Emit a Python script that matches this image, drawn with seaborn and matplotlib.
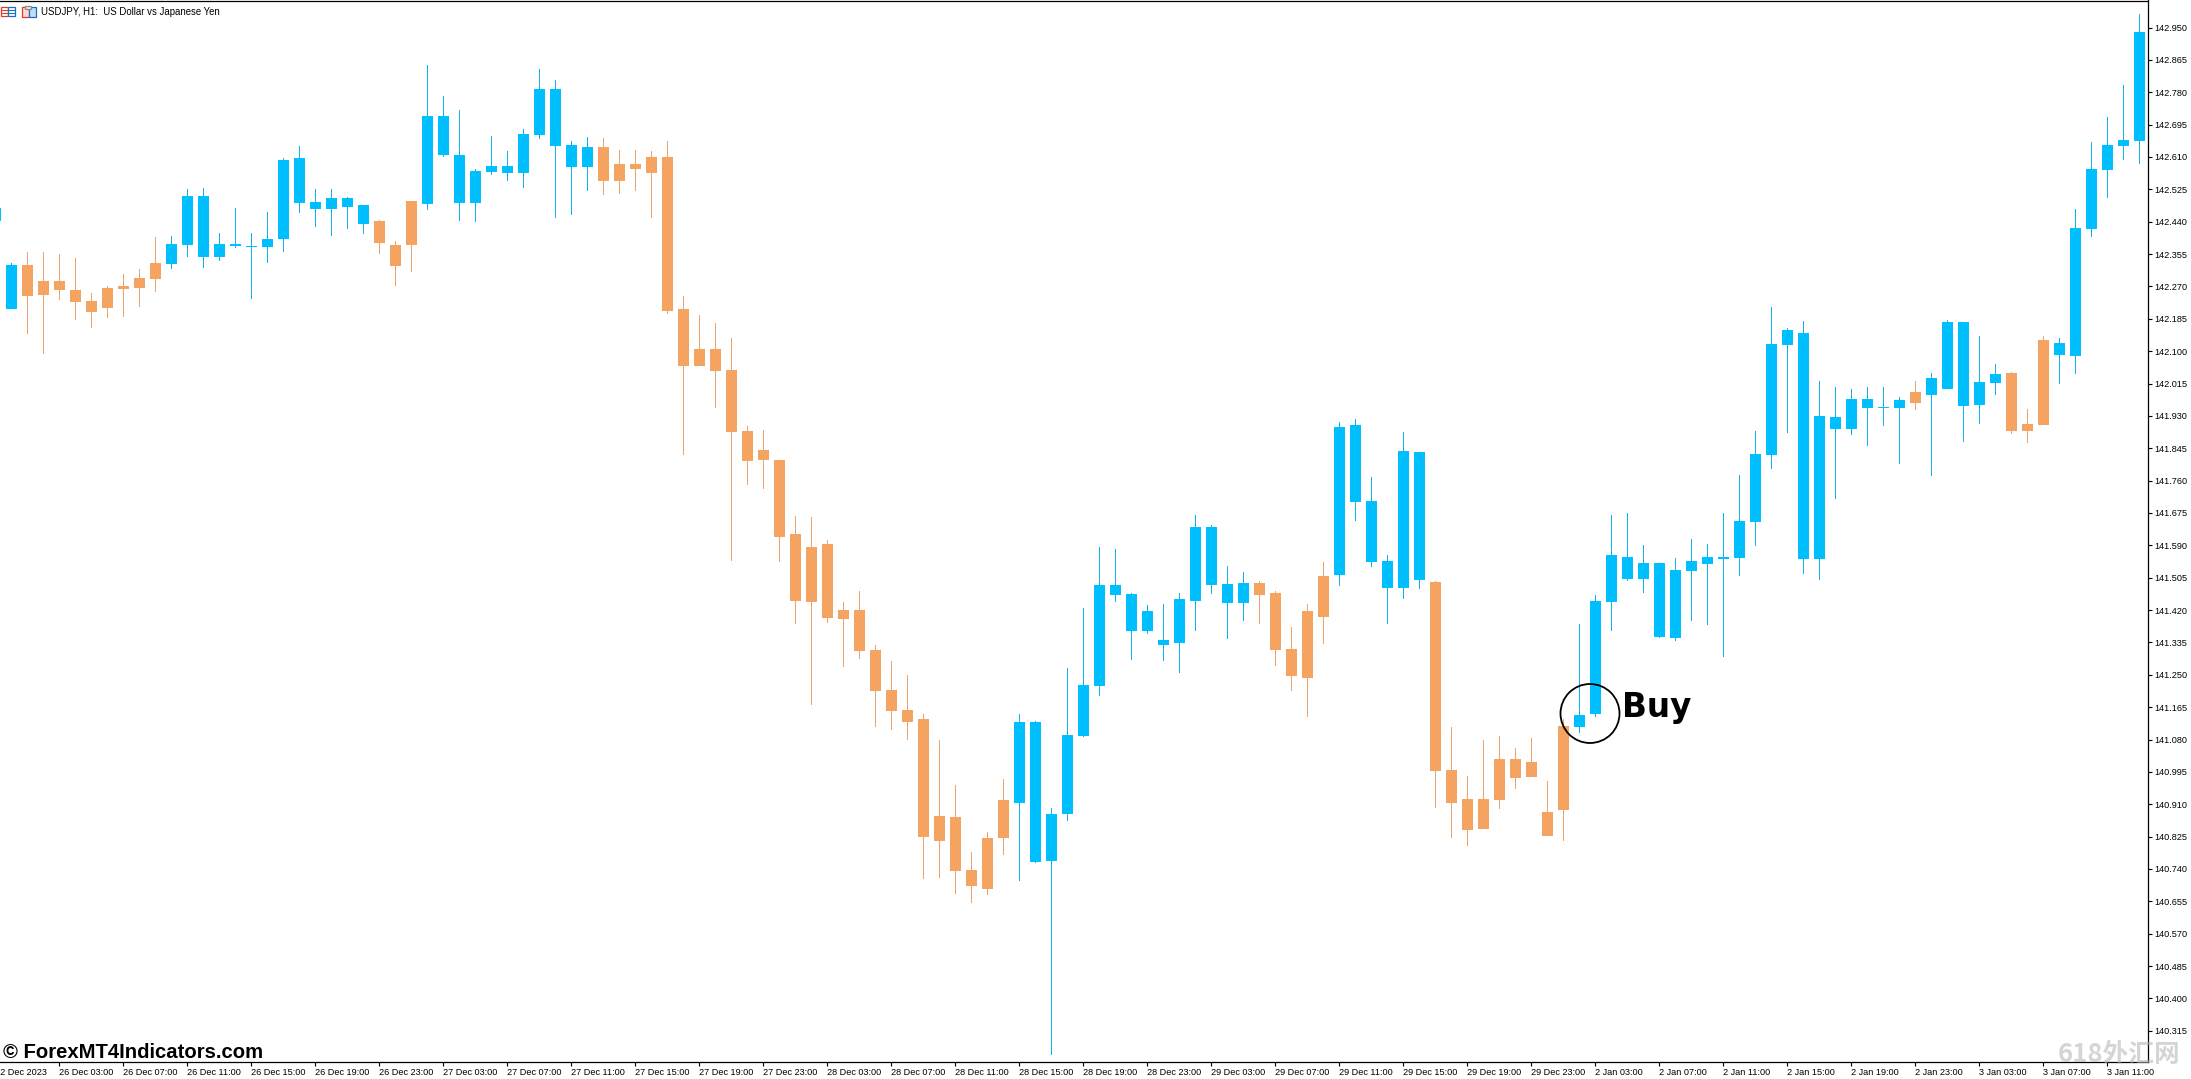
import numpy as np
import pandas as pd
import matplotlib
matplotlib.use('Agg')
import matplotlib.pyplot as plt
from matplotlib.patches import Circle, Rectangle
import seaborn as sns

# ==========================================
# Chart data (USDJPY H1)
# ==========================================
highs = [
    142.497, 142.331, 142.360, 142.360, 142.355, 142.345, 142.253, 142.271, 142.302, 142.316,
    142.400, 142.402, 142.526, 142.528, 142.410, 142.476, 142.410, 142.465, 142.607, 142.639,
    142.526, 142.526, 142.505, 142.484, 142.444, 142.389, 142.494, 142.851, 142.770, 142.733,
    142.578, 142.665, 142.626, 142.683, 142.841, 142.812, 142.652, 142.662, 142.660, 142.628,
    142.628, 142.626, 142.652, 142.245, 142.195, 142.174, 142.134, 141.903, 141.893, 141.814,
    141.667, 141.664, 141.604, 141.441, 141.470, 141.328, 141.286, 141.249, 141.147, 141.078,
    140.960, 140.784, 140.837, 140.976, 141.147, 141.128, 140.900, 141.267, 141.425, 141.585,
    141.580, 141.464, 141.433, 141.436, 141.464, 141.669, 141.643, 141.535, 141.520, 141.496,
    141.470, 141.375, 141.436, 141.546, 141.914, 141.922, 141.769, 141.564, 141.887, 141.835,
    141.496, 141.112, 140.984, 141.078, 141.089, 141.057, 141.084, 140.971, 141.134, 141.383,
    141.459, 141.669, 141.675, 141.591, 141.543, 141.556, 141.606, 141.593, 141.675, 141.775,
    141.890, 142.216, 142.161, 142.179, 142.021, 142.006, 142.000, 142.006, 142.006, 141.979,
    142.021, 142.042, 142.182, 142.176, 142.140, 142.066, 142.045, 141.948, 142.140, 142.134,
    142.473, 142.649, 142.715, 142.799, 142.985,
]
lows = [
    142.427, 142.211, 142.145, 142.092, 142.234, 142.182, 142.161, 142.187, 142.190, 142.216,
    142.255, 142.316, 142.347, 142.318, 142.337, 142.371, 142.237, 142.331, 142.360, 142.463,
    142.426, 142.402, 142.421, 142.408, 142.355, 142.271, 142.308, 142.471, 142.610, 142.442,
    142.439, 142.563, 142.547, 142.528, 142.657, 142.450, 142.457, 142.520, 142.510, 142.513,
    142.520, 142.450, 142.197, 141.827, 142.061, 141.950, 141.549, 141.748, 141.738, 141.546,
    141.383, 141.170, 141.386, 141.270, 141.291, 141.112, 141.105, 141.078, 140.713, 140.716,
    140.674, 140.650, 140.671, 140.776, 140.708, 140.755, 140.251, 140.866, 141.086, 141.194,
    141.441, 141.288, 141.357, 141.286, 141.254, 141.365, 141.462, 141.344, 141.391, 141.383,
    141.273, 141.207, 141.139, 141.331, 141.483, 141.654, 141.533, 141.383, 141.449, 141.475,
    140.900, 140.821, 140.800, 140.845, 140.897, 140.950, 140.981, 140.826, 140.813, 141.097,
    141.139, 141.365, 141.496, 141.464, 141.346, 141.338, 141.391, 141.380, 141.297, 141.509,
    141.588, 141.790, 141.885, 141.514, 141.499, 141.711, 141.879, 141.851, 141.903, 141.803,
    141.945, 141.772, 142.000, 141.861, 141.908, 141.985, 141.882, 141.859, 141.906, 142.014,
    142.040, 142.400, 142.502, 142.603, 142.591,
]
opens = [
    142.443, 142.211, 142.326, 142.284, 142.284, 142.260, 142.232, 142.266, 142.271, 142.292,
    142.331, 142.329, 142.379, 142.347, 142.347, 142.376, 142.373, 142.373, 142.394, 142.489,
    142.473, 142.473, 142.478, 142.434, 142.442, 142.379, 142.494, 142.486, 142.615, 142.489,
    142.489, 142.570, 142.568, 142.568, 142.668, 142.639, 142.584, 142.584, 142.636, 142.591,
    142.591, 142.610, 142.610, 142.211, 142.105, 142.105, 142.050, 141.890, 141.840, 141.814,
    141.620, 141.585, 141.593, 141.420, 141.420, 141.315, 141.210, 141.157, 141.134, 140.879,
    140.876, 140.737, 140.821, 140.921, 140.913, 140.758, 140.760, 140.884, 141.089, 141.220,
    141.459, 141.365, 141.365, 141.328, 141.333, 141.443, 141.485, 141.438, 141.438, 141.491,
    141.464, 141.317, 141.417, 141.509, 141.512, 141.704, 141.546, 141.478, 141.478, 141.499,
    141.493, 141.000, 140.923, 140.923, 141.028, 141.028, 141.021, 140.889, 141.115, 141.112,
    141.147, 141.441, 141.501, 141.501, 141.349, 141.346, 141.522, 141.541, 141.554, 141.556,
    141.651, 141.827, 142.116, 141.554, 141.554, 141.895, 141.895, 141.952, 141.950, 141.952,
    141.992, 141.985, 142.000, 141.956, 141.958, 142.016, 142.042, 141.908, 142.129, 142.090,
    142.087, 142.421, 142.576, 142.639, 142.652,
]
closes = [
    142.475, 142.326, 142.245, 142.247, 142.260, 142.229, 142.203, 142.213, 142.263, 142.266,
    142.289, 142.381, 142.507, 142.507, 142.381, 142.381, 142.376, 142.394, 142.602, 142.607,
    142.492, 142.502, 142.502, 142.484, 142.384, 142.323, 142.379, 142.717, 142.717, 142.615,
    142.573, 142.586, 142.586, 142.670, 142.788, 142.788, 142.641, 142.636, 142.547, 142.547,
    142.578, 142.568, 142.205, 142.061, 142.061, 142.048, 141.887, 141.811, 141.814, 141.612,
    141.443, 141.441, 141.399, 141.396, 141.312, 141.207, 141.155, 141.126, 140.824, 140.813,
    140.734, 140.695, 140.687, 140.821, 141.126, 141.126, 140.884, 141.091, 141.223, 141.485,
    141.485, 141.462, 141.417, 141.341, 141.449, 141.638, 141.638, 141.488, 141.491, 141.459,
    141.315, 141.246, 141.241, 141.401, 141.901, 141.906, 141.706, 141.549, 141.838, 141.835,
    140.997, 140.913, 140.842, 140.845, 140.921, 140.979, 140.981, 140.826, 140.895, 141.144,
    141.443, 141.564, 141.559, 141.543, 141.543, 141.525, 141.549, 141.559, 141.559, 141.654,
    141.830, 142.119, 142.155, 142.148, 141.929, 141.927, 141.974, 141.974, 141.953, 141.971,
    141.964, 142.029, 142.176, 142.176, 142.019, 142.040, 141.890, 141.890, 141.906, 142.121,
    142.423, 142.578, 142.641, 142.654, 142.938,
]

price_ticks = [
    142.950, 142.865, 142.780, 142.695, 142.610, 142.525, 142.440, 142.355,
    142.270, 142.185, 142.100, 142.015, 141.930, 141.845, 141.760, 141.675,
    141.590, 141.505, 141.420, 141.335, 141.250, 141.165, 141.080, 140.995,
    140.910, 140.825, 140.740, 140.655, 140.570, 140.485, 140.400, 140.315,
]
first_time_label = '22 Dec 2023'
time_labels = [
    '26 Dec 03:00', '26 Dec 07:00', '26 Dec 11:00', '26 Dec 15:00', '26 Dec 19:00', '26 Dec 23:00',
    '27 Dec 03:00', '27 Dec 07:00', '27 Dec 11:00', '27 Dec 15:00', '27 Dec 19:00', '27 Dec 23:00',
    '28 Dec 03:00', '28 Dec 07:00', '28 Dec 11:00', '28 Dec 15:00', '28 Dec 19:00', '28 Dec 23:00',
    '29 Dec 03:00', '29 Dec 07:00', '29 Dec 11:00', '29 Dec 15:00', '29 Dec 19:00', '29 Dec 23:00',
    '2 Jan 03:00', '2 Jan 07:00', '2 Jan 11:00', '2 Jan 15:00', '2 Jan 19:00', '2 Jan 23:00',
    '3 Jan 03:00', '3 Jan 07:00', '3 Jan 11:00',
]

BULL = '#00BFFF'
BEAR = '#F4A460'
BULL_WICK = '#12B2F0'
BEAR_WICK = '#E9A36E'
W, H = 2191, 1079

# ==========================================
# Global plotting configuration
# ==========================================
sns.set_theme(style='white')
plt.rcParams.update({
    'font.family': ['Liberation Sans', 'DejaVu Sans'],
    'axes.linewidth': 0.9,
    'axes.edgecolor': 'black',
})

df = pd.DataFrame({'bar': np.arange(len(highs)), 'high': highs, 'low': lows,
                   'open': opens, 'close': closes})
df['body_low'] = df[['open', 'close']].min(axis=1)
df['body'] = (df['close'] - df['open']).abs()
df['wick'] = df['high'] - df['low']
df['up'] = df['close'] >= df['open']

fig = plt.figure(figsize=(W / 100, H / 100), dpi=100, facecolor='white')
ax = fig.add_axes([0, (H - 1062) / H, 2148 / W, 1061.5 / H])

# Candles: one thin bar for the wick and one wide bar for the body
for is_up, wick_color, body_color in [(True, BULL_WICK, BULL), (False, BEAR_WICK, BEAR)]:
    sub = df[df['up'] == is_up]
    sns.barplot(data=sub, x='bar', y='wick', bottom=sub['low'].to_numpy(), ax=ax,
                native_scale=True, width=1 / 16, color=wick_color, saturation=1,
                errorbar=None, linewidth=0)
    sns.barplot(data=sub, x='bar', y='body', bottom=sub['body_low'].to_numpy(), ax=ax,
                native_scale=True, width=11 / 16, color=body_color, saturation=1,
                errorbar=None, linewidth=0)

ax.set_xlim(0.3125, 134.56)
ax.set_ylim(140.233, 143.021)
ax.set_xlabel('')
ax.set_ylabel('')
ax.set_facecolor('white')
ax.grid(False)
ax.spines['left'].set_visible(False)

ax.yaxis.tick_right()
ax.set_yticks(price_ticks)
ax.set_yticklabels([f'{p:.3f}' for p in price_ticks])
ax.tick_params(axis='y', which='major', right=True, left=False, length=3, width=0.8, pad=1.5,
               labelsize=6.6, colors='black')

ax.set_xticks(np.arange(1, len(time_labels) + 1) * 4)
ax.set_xticklabels(time_labels, ha='left')
ax.tick_params(axis='x', which='major', bottom=True, length=3, width=0.8, pad=1.2,
               labelsize=6.6, colors='black')
# The first label starts left of the window, so its tick is out of range
ax.annotate(first_time_label, xy=(0, 0), xycoords=ax.get_xaxis_transform(), xytext=(0, -4.2),
            textcoords='offset points', ha='left', va='top', fontsize=6.6, color='black',
            annotation_clip=False)

# ==========================================
# Overlay in pixel coordinates: header, marks and watermark
# ==========================================
over = fig.add_axes([0, 0, 1, 1], facecolor='none')
over.set_xlim(0, W)
over.set_ylim(H, 0)
over.axis('off')

# Toolbar icons next to the symbol name
for x, y, w, h, fc, ec in [(1, 7, 7, 9, '#FFFFFF', '#E03A2E'), (8, 7, 7, 9, '#FFFFFF', '#1B6FC0'),
                           (22, 7, 6.5, 10, '#FBD9D2', '#E03A2E'), (29, 7, 7, 10, '#BFDDF5', '#1B6FC0'),
                           (25, 6, 6, 3, '#E8E8E8', '#8C8C8C')]:
    over.add_patch(Rectangle((x, y), w, h, facecolor=fc, edgecolor=ec, linewidth=0.9))
for y in (10, 13):
    over.plot([1, 8], [y, y], color='#E03A2E', lw=0.8)
    over.plot([8, 15], [y, y], color='#1B6FC0', lw=0.8)

over.text(41, 11.7, 'USDJPY, H1:  US Dollar vs Japanese Yen', fontsize=6.9, color='black',
          va='center', ha='left')
over.text(3, 1052.5, '\u00a9 ForexMT4Indicators.com', fontsize=14.6, fontweight='bold',
          color='black', va='center', ha='left')

over.add_patch(Circle((1590, 713.5), 29.5, fill=False, edgecolor='black', linewidth=1.3))
over.text(1622, 717, 'Buy', family='DejaVu Sans', fontsize=23.5, fontweight='bold',
          color='black', va='baseline', ha='left')

over.text(2058, 1054, '618\u5916\u6c47\u7f51', family=['Noto Sans CJK SC', 'DejaVu Sans'],
          fontsize=18.5, fontweight='bold', color='#B4B4B4', alpha=0.55, va='center', ha='left')

fig.savefig('out.png', dpi=100, facecolor='white')
